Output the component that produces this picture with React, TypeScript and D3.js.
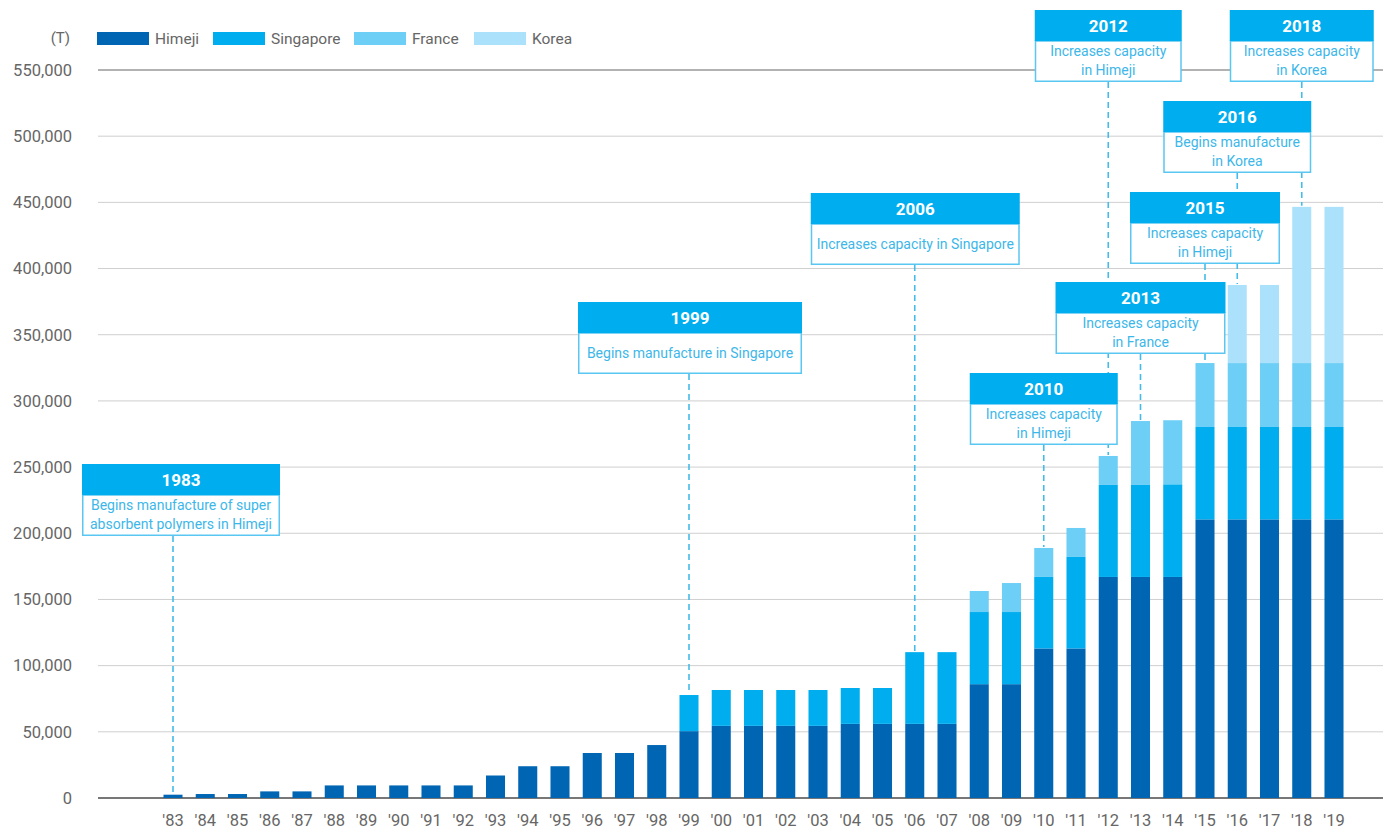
import React from "react";
import * as d3 from "d3";

const years = ["'83","'84","'85","'86","'87","'88","'89","'90","'91","'92","'93","'94","'95","'96","'97","'98","'99","'00","'01","'02","'03","'04","'05","'06","'07","'08","'09","'10","'11","'12","'13","'14","'15","'16","'17","'18","'19"];

const himeji = [2500,3000,3000,5000,5000,9500,9500,9500,9500,9500,17000,24000,24000,34000,34000,40000,50500,54500,54500,54500,54500,56000,56000,56000,56000,86000,86000,113000,113000,167000,167000,167000,210500,210500,210500,210500,210500];
const singapore = [0,0,0,0,0,0,0,0,0,0,0,0,0,0,0,0,27300,27100,27100,27100,27100,27100,27100,54200,54200,54500,54500,54000,69100,69500,69500,70000,69800,69800,69800,69800,69800];
const france = [0,0,0,0,0,0,0,0,0,0,0,0,0,0,0,0,0,0,0,0,0,0,0,0,0,15900,21900,21900,21900,21900,48300,48400,48300,48300,48300,48300,48300];
const korea = [0,0,0,0,0,0,0,0,0,0,0,0,0,0,0,0,0,0,0,0,0,0,0,0,0,0,0,0,0,0,0,0,0,59000,59000,118000,118000];

const seriesNames = ["Himeji", "Singapore", "France", "Korea"];
const yTicks = [0,50000,100000,150000,200000,250000,300000,350000,400000,450000,500000,550000];

const annotationYears = ["'83","'99","'06","'10","'12","'13","'15","'16","'18"];
const annotationTitles = ["1983","1999","2006","2010","2012","2013","2015","2016","2018"];
const annotationTexts = [
  ["Begins manufacture of super", "absorbent polymers in Himeji"],
  ["Begins manufacture in Singapore"],
  ["Increases capacity in Singapore"],
  ["Increases capacity", "in Himeji"],
  ["Increases capacity", "in Himeji"],
  ["Increases capacity", "in France"],
  ["Increases capacity", "in Himeji"],
  ["Begins manufacture", "in Korea"],
  ["Increases capacity", "in Korea"],
];

// layout (positions) kept separate from data
const boxLayout = [
  { dx: 8, top: 464, w: 198 },
  { dx: 1, top: 302, w: 224 },
  { dx: 0.5, top: 193, w: 209 },
  { dx: 0, top: 373, w: 148 },
  { dx: 0, top: 10, w: 147 },
  { dx: 0, top: 282, w: 170 },
  { dx: 0, top: 192, w: 150 },
  { dx: 0, top: 101, w: 148 },
  { dx: 0, top: 10, w: 144 },
];

const colors = ["#0066b3", "#00aeef", "#6dcff6", "#abe1fa"];
const FONT = "Roboto, 'Noto Sans', sans-serif";

export default function App() {
  const W = 1383, H = 830;
  const x = d3.scaleBand<string>().domain(years).range([173 - 16.125, 1334 + 16.125]).paddingInner(0.41).paddingOuter(0.205);
  const y = d3.scaleLinear().domain([0, 550000]).range([798, 70]);

  const table = years.map((yr, i) => ({ year: yr, Himeji: himeji[i], Singapore: singapore[i], France: france[i], Korea: korea[i] }));
  const stack = d3.stack<any>().keys(seriesNames)(table);
  const totals = years.map((_, i) => himeji[i] + singapore[i] + france[i] + korea[i]);
  const cx = (yr: string) => (x(yr) as number) + x.bandwidth() / 2;

  const headerH = 31, bodyH = 41;

  return (
    <svg width={W} height={H} style={{ position: "absolute", left: 0, top: 0, fontFamily: FONT }}>
      <rect width={W} height={H} fill="#fff" />
      {/* gridlines */}
      {yTicks.map((t) => (
        <line key={t} x1={98} x2={W} y1={y(t)} y2={y(t)}
          stroke={t === 550000 ? "#666" : t === 0 ? "#777" : "#cfcfcf"}
          strokeWidth={t === 0 ? 2 : t === 550000 ? 1.2 : 1} />
      ))}
      {yTicks.map((t) => (
        <text key={"l" + t} x={72} y={y(t)} dy="0.35em" textAnchor="end" fontSize={16.5} fill="#666">
          {d3.format(",")(t)}
        </text>
      ))}
      <text x={70} y={38} dy="0.35em" textAnchor="end" fontSize={15} fill="#666">(T)</text>
      {/* legend */}
      {seriesNames.map((s, i) => {
        const lx = [97, 213, 354, 474][i];
        return (
          <g key={s}>
            <rect x={lx} y={32} width={52} height={13} fill={colors[i]} />
            <text x={lx + 58} y={38.5} dy="0.35em" fontSize={15.5} fill="#666">{s}</text>
          </g>
        );
      })}
      {/* bars */}
      {stack.map((layer, si) => (
        <g key={layer.key} fill={colors[si]}>
          {layer.map((d, i) => d[1] > d[0] ? (
            <rect key={i} x={x(years[i])} width={x.bandwidth()} y={y(d[1])} height={y(d[0]) - y(d[1])} />
          ) : null)}
        </g>
      ))}
      {/* x labels */}
      {years.map((yr) => (
        <text key={yr} x={cx(yr)} y={820} dy="0.35em" textAnchor="middle" fontSize={16.5} fill="#666">{yr}</text>
      ))}
      {/* annotation leader lines (drawn first, under all boxes) */}
      {annotationYears.map((ay, k) => {
        const i = years.indexOf(ay);
        const lx = cx(ay);
        const L = boxLayout[k];
        const bottom = L.top + headerH + bodyH;
        return (
          <line key={"ln" + ay} x1={lx} x2={lx} y1={bottom} y2={y(totals[i]) - 1} stroke="#45bbea" strokeWidth={1.6} strokeDasharray="6,4" />
        );
      })}
      {/* annotation boxes */}
      {annotationYears.map((ay, k) => {
        const lx = cx(ay);
        const L = boxLayout[k];
        const bx = lx + L.dx - L.w / 2;
        const lines = annotationTexts[k];
        return (
          <g key={ay}>
            <rect x={bx + 0.75} y={L.top + headerH} width={L.w - 1.5} height={bodyH - 0.75} fill="#fff" stroke="#5ac6f2" strokeWidth={1.5} />
            <rect x={bx} y={L.top} width={L.w} height={headerH} fill="#00aeef" />
            <text x={bx + L.w / 2} y={L.top + headerH / 2 + 1} dy="0.35em" textAnchor="middle" fontSize={17} fontWeight="bold" fill="#fff">
              {annotationTitles[k]}
            </text>
            {lines.map((t, j) => (
              <text key={j} x={bx + L.w / 2}
                y={lines.length === 1 ? L.top + headerH + bodyH / 2 : L.top + headerH + 10.5 + j * 19}
                dy="0.35em" textAnchor="middle" fontSize={14} fill="#3db7e9">{t}</text>
            ))}
          </g>
        );
      })}
    </svg>
  );
}
